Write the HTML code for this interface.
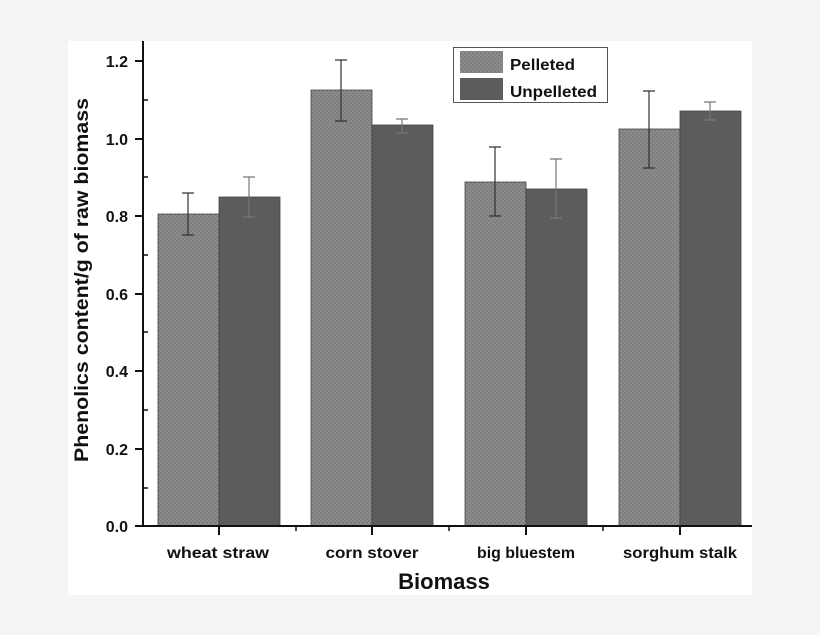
<!DOCTYPE html>
<html><head><meta charset="utf-8"><style>
html,body{margin:0;padding:0;background:#f5f5f5;}
svg{display:block;}
text{font-family:"Liberation Sans",sans-serif;font-weight:bold;fill:#111;}
</style></head><body>
<svg width="820" height="635" viewBox="0 0 820 635">
<defs>
<pattern id="chk" width="4" height="4" patternUnits="userSpaceOnUse">
<rect width="4" height="4" fill="#8c8c8c"/>
<rect width="2" height="2" fill="#7e7e7e"/>
<rect x="2" y="2" width="2" height="2" fill="#7e7e7e"/>
</pattern>
</defs>
<rect x="0" y="0" width="820" height="635" fill="#f5f5f5"/>
<rect x="68" y="41" width="684" height="554" fill="#fff"/>
<!-- bars -->
<g stroke="#444" stroke-width="0.8">
<rect x="158" y="214" width="61" height="312" fill="url(#chk)"/>
<rect x="219" y="197" width="61" height="329" fill="#5c5c5c"/>
<rect x="311" y="90" width="61" height="436" fill="url(#chk)"/>
<rect x="372" y="125" width="61" height="401" fill="#5c5c5c"/>
<rect x="465" y="182" width="61" height="344" fill="url(#chk)"/>
<rect x="526" y="189" width="61" height="337" fill="#5c5c5c"/>
<rect x="619" y="129" width="61" height="397" fill="url(#chk)"/>
<rect x="680" y="111" width="61" height="415" fill="#5c5c5c"/>
</g>
<!-- error bars -->
<g stroke="#333" stroke-width="1.2" fill="none">
<path d="M188 193V235M182 193H194M182 235H194"/>
<path d="M249 177V217M243 177H255M243 217H255" stroke="#777"/>
<path d="M341 60V121M335 60H347M335 121H347"/>
<path d="M402 119V133M396 119H408M396 133H408" stroke="#777"/>
<path d="M495 147V216M489 147H501M489 216H501"/>
<path d="M556 159V218M550 159H562M550 218H562" stroke="#777"/>
<path d="M649 91V168M643 91H655M643 168H655"/>
<path d="M710 102V120M704 102H716M704 120H716" stroke="#777"/>
</g>
<!-- axes -->
<g stroke="#111" stroke-width="2" fill="none">
<path d="M143 41V527"/>
<path d="M142 526H752"/>
<path d="M135 61H143M135 139H143M135 216H143M135 294H143M135 371H143M135 449H143M135 526H143"/>
<path d="M143 100H148M143 177H148M143 255H148M143 332H148M143 410H148M143 488H148" stroke-width="1.5"/>
<path d="M219 526V535M372 526V535M526 526V535M680 526V535"/>
<path d="M296 526V531M449 526V531M603 526V531" stroke-width="1.5"/>
</g>
<g font-size="16" text-anchor="end">
<text x="128" y="67">1.2</text>
<text x="128" y="145">1.0</text>
<text x="128" y="222">0.8</text>
<text x="128" y="300">0.6</text>
<text x="128" y="377">0.4</text>
<text x="128" y="455">0.2</text>
<text x="128" y="532">0.0</text>
</g>
<g font-size="16" text-anchor="middle">
<text x="218" y="558" textLength="102" lengthAdjust="spacingAndGlyphs">wheat straw</text>
<text x="372" y="558" textLength="93" lengthAdjust="spacingAndGlyphs">corn stover</text>
<text x="526" y="558" textLength="98" lengthAdjust="spacingAndGlyphs">big bluestem</text>
<text x="680" y="558" textLength="114" lengthAdjust="spacingAndGlyphs">sorghum stalk</text>
</g>
<text x="444" y="589" font-size="22" text-anchor="middle">Biomass</text>
<text transform="translate(88,280) rotate(-90)" font-size="19" text-anchor="middle" textLength="364" lengthAdjust="spacingAndGlyphs">Phenolics content/g of raw biomass</text>
<!-- legend -->
<rect x="453.5" y="47.5" width="154" height="55" fill="#fff" stroke="#555" stroke-width="1"/>
<rect x="460" y="51" width="43" height="22" fill="url(#chk)"/>
<rect x="460" y="78" width="43" height="22" fill="#5c5c5c"/>
<text x="510" y="70" font-size="16" textLength="65" lengthAdjust="spacingAndGlyphs">Pelleted</text>
<text x="510" y="97" font-size="16" textLength="87" lengthAdjust="spacingAndGlyphs">Unpelleted</text>
</svg>
</body></html>
